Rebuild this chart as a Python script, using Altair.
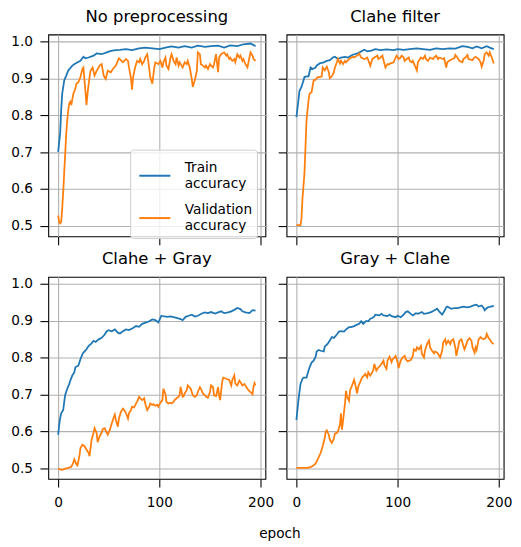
import altair as alt
import pandas as pd

TITLES = ["No preprocessing", "Clahe filter", "Clahe + Gray", "Gray + Clahe"]
SERIES = ["Train accuracy", "Validation accuracy"]
COLORS = ["#1f77b4", "#ff7f0e"]
X_TICKS = [0, 100, 200]
Y_TICKS = [0.5, 0.6, 0.7, 0.8, 0.9, 1.0]

# (epoch, accuracy)
P1_TRAIN = [(0,0.701),(2,0.752),(3,0.815),(4,0.859),(6,0.895),(8,0.908),(10,0.922),(14,0.935),(17,0.941),(22,0.948),(25,0.959),(27,0.955),(30,0.957),(35,0.962),(38,0.968),(43,0.966),(48,0.971),(52,0.975),(57,0.977),(61,0.978),(67,0.980),(73,0.977),(80,0.982),(86,0.984),(93,0.982),(100,0.980),(106,0.984),(112,0.987),(119,0.984),(125,0.988),(132,0.984),(138,0.989),(145,0.986),(151,0.988),(158,0.989),(164,0.984),(170,0.990),(177,0.988),(183,0.993),(190,0.995),(195,0.988)]
P1_VAL = [(0,0.528),(1,0.510),(2,0.507),(3,0.511),(4,0.547),(5,0.592),(6,0.645),(7,0.699),(8,0.752),(9,0.788),(10,0.815),(11,0.832),(12,0.837),(13,0.828),(15,0.859),(17,0.872),(18,0.886),(20,0.890),(22,0.904),(24,0.926),(25,0.930),(26,0.895),(27,0.864),(28,0.828),(29,0.859),(31,0.904),(32,0.921),(34,0.930),(36,0.908),(38,0.921),(40,0.930),(41,0.935),(43,0.939),(45,0.908),(47,0.899),(49,0.921),(52,0.917),(54,0.926),(57,0.935),(60,0.955),(64,0.944),(67,0.953),(69,0.948),(70,0.930),(72,0.899),(73,0.870),(74,0.904),(76,0.930),(78,0.948),(80,0.944),(81,0.953),(83,0.939),(85,0.948),(86,0.957),(88,0.966),(89,0.948),(91,0.904),(93,0.886),(95,0.930),(96,0.944),(99,0.939),(101,0.948),(103,0.930),(104,0.944),(106,0.957),(107,0.935),(109,0.926),(111,0.957),(112,0.966),(114,0.948),(116,0.939),(117,0.957),(119,0.935),(120,0.944),(122,0.935),(123,0.930),(125,0.944),(127,0.939),(128,0.948),(130,0.930),(132,0.899),(133,0.877),(135,0.895),(137,0.921),(138,0.971),(140,0.966),(141,0.939),(143,0.935),(145,0.930),(146,0.935),(148,0.926),(150,0.939),(151,0.935),(153,0.930),(154,0.939),(156,0.966),(158,0.917),(159,0.957),(161,0.966),(164,0.971),(166,0.962),(167,0.966),(169,0.953),(170,0.957),(172,0.948),(174,0.953),(175,0.944),(177,0.966),(179,0.957),(180,0.962),(182,0.948),(183,0.953),(185,0.939),(187,0.930),(188,0.944),(190,0.971),(192,0.962),(193,0.953),(195,0.948)]

P2_TRAIN = [(0,0.795),(2,0.841),(3,0.866),(5,0.877),(6,0.886),(8,0.904),(10,0.906),(12,0.906),(14,0.930),(16,0.926),(19,0.930),(20,0.935),(23,0.941),(27,0.944),(30,0.948),(33,0.950),(36,0.957),(38,0.959),(41,0.953),(44,0.957),(48,0.959),(51,0.957),(55,0.964),(61,0.969),(67,0.978),(70,0.974),(74,0.976),(78,0.980),(83,0.977),(89,0.979),(96,0.977),(100,0.980),(106,0.978),(112,0.980),(119,0.982),(125,0.980),(132,0.978),(138,0.982),(145,0.980),(151,0.982),(157,0.981),(164,0.988),(169,0.986),(174,0.982),(178,0.987),(183,0.982),(188,0.988),(191,0.984),(195,0.980)]
P2_VAL = [(0,0.502),(4,0.502),(5,0.520),(6,0.574),(8,0.645),(9,0.716),(10,0.788),(12,0.841),(13,0.859),(15,0.863),(17,0.895),(19,0.897),(21,0.904),(23,0.904),(25,0.906),(26,0.930),(28,0.922),(30,0.932),(32,0.917),(33,0.901),(35,0.906),(37,0.917),(38,0.930),(40,0.944),(41,0.953),(43,0.941),(44,0.948),(46,0.939),(48,0.948),(49,0.944),(51,0.950),(53,0.955),(56,0.959),(57,0.957),(61,0.964),(62,0.968),(64,0.957),(67,0.953),(69,0.955),(70,0.957),(73,0.935),(75,0.953),(77,0.957),(80,0.962),(81,0.953),(83,0.957),(85,0.962),(86,0.950),(88,0.930),(90,0.939),(91,0.938),(93,0.941),(96,0.944),(98,0.957),(99,0.962),(101,0.953),(103,0.957),(104,0.962),(106,0.957),(107,0.948),(109,0.953),(111,0.957),(112,0.948),(114,0.944),(115,0.948),(117,0.935),(119,0.922),(120,0.944),(122,0.953),(123,0.957),(125,0.953),(127,0.962),(128,0.953),(130,0.948),(132,0.957),(135,0.953),(136,0.957),(138,0.962),(140,0.953),(141,0.957),(145,0.953),(146,0.955),(148,0.930),(149,0.944),(151,0.948),(154,0.953),(156,0.955),(157,0.964),(159,0.957),(161,0.948),(164,0.944),(165,0.953),(167,0.957),(169,0.964),(170,0.953),(174,0.950),(175,0.955),(177,0.959),(180,0.953),(182,0.944),(183,0.932),(185,0.948),(186,0.966),(188,0.971),(190,0.962),(191,0.971),(193,0.957),(195,0.941)]

P3_TRAIN = [(0,0.591),(1,0.618),(2,0.636),(3,0.649),(5,0.658),(6,0.680),(7,0.700),(9,0.716),(11,0.729),(12,0.738),(14,0.752),(16,0.761),(17,0.774),(20,0.779),(22,0.796),(24,0.810),(25,0.814),(28,0.823),(30,0.832),(33,0.839),(35,0.846),(37,0.843),(40,0.850),(43,0.854),(46,0.863),(48,0.872),(50,0.875),(53,0.872),(56,0.877),(59,0.868),(61,0.866),(64,0.872),(67,0.877),(70,0.875),(74,0.881),(77,0.886),(80,0.884),(83,0.892),(87,0.896),(90,0.899),(93,0.904),(96,0.902),(99,0.896),(102,0.914),(105,0.912),(108,0.911),(111,0.912),(114,0.910),(117,0.908),(121,0.905),(123,0.902),(126,0.911),(129,0.914),(132,0.917),(135,0.912),(138,0.914),(142,0.920),(145,0.923),(148,0.921),(151,0.924),(155,0.920),(158,0.923),(161,0.926),(164,0.921),(168,0.923),(171,0.926),(174,0.930),(177,0.935),(180,0.932),(182,0.926),(185,0.923),(189,0.921),(192,0.929),(195,0.928)]
P3_VAL = [(0,0.499),(2,0.497),(4,0.496),(7,0.499),(10,0.501),(13,0.504),(15,0.515),(16,0.524),(18,0.511),(19,0.508),(21,0.533),(22,0.555),(24,0.564),(26,0.560),(28,0.551),(30,0.542),(31,0.533),(33,0.577),(35,0.597),(36,0.609),(38,0.596),(39,0.571),(41,0.587),(43,0.597),(44,0.606),(46,0.609),(48,0.596),(49,0.591),(51,0.604),(52,0.613),(54,0.631),(56,0.646),(57,0.631),(59,0.613),(60,0.635),(62,0.653),(64,0.662),(65,0.659),(67,0.650),(69,0.635),(70,0.650),(72,0.658),(73,0.667),(75,0.665),(77,0.676),(78,0.681),(80,0.694),(81,0.690),(83,0.685),(85,0.690),(86,0.676),(88,0.658),(90,0.667),(91,0.676),(93,0.672),(94,0.674),(96,0.670),(98,0.672),(99,0.667),(101,0.678),(103,0.685),(104,0.716),(106,0.702),(107,0.680),(109,0.676),(111,0.678),(112,0.676),(114,0.680),(115,0.685),(117,0.690),(119,0.694),(120,0.699),(121,0.721),(123,0.694),(124,0.696),(125,0.703),(127,0.712),(128,0.725),(131,0.716),(133,0.698),(135,0.694),(137,0.698),(138,0.707),(140,0.720),(141,0.716),(143,0.703),(145,0.698),(146,0.694),(148,0.692),(150,0.707),(151,0.725),(153,0.720),(154,0.698),(156,0.696),(158,0.720),(159,0.698),(160,0.685),(162,0.734),(163,0.746),(166,0.743),(169,0.740),(171,0.725),(172,0.739),(174,0.752),(175,0.730),(177,0.725),(179,0.738),(180,0.734),(182,0.725),(184,0.729),(185,0.725),(187,0.716),(188,0.712),(190,0.707),(192,0.701),(193,0.721),(194,0.731),(195,0.725)]

P4_TRAIN = [(0,0.631),(1,0.658),(2,0.685),(3,0.707),(4,0.728),(6,0.743),(7,0.746),(10,0.746),(11,0.756),(13,0.774),(15,0.787),(17,0.792),(19,0.803),(20,0.817),(22,0.821),(24,0.819),(27,0.817),(28,0.830),(31,0.838),(33,0.847),(35,0.856),(37,0.854),(40,0.863),(42,0.871),(44,0.872),(47,0.871),(49,0.877),(52,0.883),(54,0.883),(57,0.886),(60,0.890),(62,0.892),(64,0.899),(66,0.892),(69,0.900),(71,0.899),(73,0.906),(75,0.908),(77,0.912),(78,0.917),(82,0.915),(84,0.919),(86,0.915),(90,0.913),(92,0.917),(94,0.913),(98,0.910),(100,0.914),(103,0.910),(106,0.917),(108,0.924),(110,0.926),(113,0.919),(115,0.915),(118,0.921),(120,0.919),(124,0.924),(126,0.919),(130,0.921),(133,0.924),(136,0.928),(139,0.933),(141,0.926),(144,0.917),(146,0.926),(148,0.937),(149,0.939),(153,0.933),(156,0.935),(159,0.935),(162,0.937),(165,0.939),(169,0.937),(172,0.939),(175,0.942),(178,0.944),(180,0.939),(183,0.942),(185,0.935),(186,0.929),(189,0.937),(191,0.938),(195,0.941)]
P4_VAL = [(0,0.501),(11,0.501),(14,0.503),(17,0.508),(19,0.513),(21,0.524),(24,0.542),(26,0.560),(28,0.582),(29,0.600),(30,0.603),(32,0.591),(33,0.578),(35,0.569),(37,0.580),(38,0.594),(40,0.596),(41,0.600),(43,0.618),(44,0.649),(45,0.605),(46,0.627),(48,0.676),(49,0.710),(50,0.694),(52,0.683),(53,0.711),(55,0.725),(57,0.740),(58,0.729),(60,0.703),(61,0.721),(63,0.734),(65,0.747),(67,0.752),(68,0.756),(70,0.747),(71,0.761),(73,0.752),(75,0.761),(76,0.767),(77,0.783),(79,0.765),(81,0.774),(82,0.776),(84,0.783),(86,0.792),(87,0.779),(89,0.770),(90,0.792),(92,0.803),(94,0.788),(95,0.796),(97,0.801),(98,0.805),(100,0.788),(101,0.772),(103,0.792),(105,0.801),(107,0.805),(108,0.796),(110,0.790),(111,0.792),(113,0.794),(115,0.805),(116,0.823),(118,0.819),(119,0.828),(121,0.823),(123,0.832),(124,0.810),(126,0.801),(127,0.819),(129,0.837),(131,0.847),(132,0.828),(134,0.819),(136,0.812),(137,0.817),(139,0.814),(140,0.810),(142,0.801),(144,0.819),(145,0.841),(147,0.850),(148,0.837),(150,0.846),(152,0.837),(153,0.846),(155,0.850),(157,0.828),(158,0.805),(160,0.832),(161,0.846),(163,0.850),(165,0.832),(166,0.823),(168,0.837),(169,0.847),(171,0.853),(173,0.846),(174,0.828),(176,0.814),(177,0.828),(178,0.821),(180,0.850),(182,0.856),(183,0.853),(185,0.850),(187,0.854),(188,0.865),(190,0.853),(191,0.850),(193,0.841),(195,0.837)]

PANELS = [(P1_TRAIN, P1_VAL), (P2_TRAIN, P2_VAL), (P3_TRAIN, P3_VAL), (P4_TRAIN, P4_VAL)]

FONT = "DejaVu Sans"
W, H = 221, 205.5


def make_df(train, val):
    rows = [{"epoch": e, "acc": v, "series": SERIES[0]} for e, v in train]
    rows += [{"epoch": e, "acc": v, "series": SERIES[1]} for e, v in val]
    return pd.DataFrame(rows)


def panel(i):
    train, val = PANELS[i]
    df = make_df(train, val)
    bottom = i >= 2
    left = i % 2 == 0
    if i == 0:
        leg = alt.Legend(
            title=None, orient="none", legendX=83.4, legendY=117.2,
            symbolType="M-2,15.3L29.6,15.3", symbolSize=4, symbolStrokeWidth=2,
            labelFont=FONT, labelFontSize=13.9, labelColor="black",
            labelExpr="split(datum.label, ' ')", labelOffset=37.3, labelBaseline="top",
            strokeColor="#cccccc", fillColor="rgba(255,255,255,0.8)",
            cornerRadius=3, padding=4.3, rowPadding=5.1, labelLimit=200,
        )
    else:
        leg = None
    return (
        alt.Chart(df)
        .mark_line(strokeWidth=1.8)
        .encode(
            x=alt.X("epoch:Q",
                    scale=alt.Scale(domain=[-9.75, 204.75], nice=False, zero=False),
                    axis=alt.Axis(values=X_TICKS, labels=bottom, title=None, format="d")),
            y=alt.Y("acc:Q",
                    scale=alt.Scale(domain=[0.4715, 1.0195], nice=False, zero=False),
                    axis=alt.Axis(values=Y_TICKS, labels=left, title=None, format=".1f")),
            color=alt.Color("series:N", scale=alt.Scale(domain=SERIES, range=COLORS), legend=leg),
        )
        .properties(
            width=W, height=H,
            title=alt.Title(TITLES[i], font=FONT, fontSize=16.7, fontWeight="normal",
                            color="black", anchor="middle", frame="group", offset=9.3),
        )
    )


chart = (
    alt.concat(*[panel(i) for i in range(4)], columns=2,
               spacing={"row": 40.7, "column": 21.5}, bounds="flush",
               title=alt.Title("epoch", orient="bottom", anchor="middle", font=FONT,
                               fontSize=13.9, fontWeight="normal", color="black",
                               offset=17, dx=19))
    .resolve_scale(color="independent")
    .properties(padding={"left": 2, "top": -4.8, "right": 0, "bottom": -2})
    .configure(style={"guide-label": {"lineHeight": 16.7}})
    .configure_view(stroke="black", strokeWidth=1.1)
    .configure_axis(
        labelFont=FONT, labelFontSize=13.9, labelColor="black",
        tickColor="black", tickWidth=1.1, tickSize=8.5,
        domain=False, grid=True, gridColor="#b0b0b0", gridWidth=1.1,
    )
    .configure_axisX(labelPadding=9)
    .configure_axisY(labelPadding=7.6)
)

chart.save("out.html", embed_options={"renderer": "svg", "actions": False})
